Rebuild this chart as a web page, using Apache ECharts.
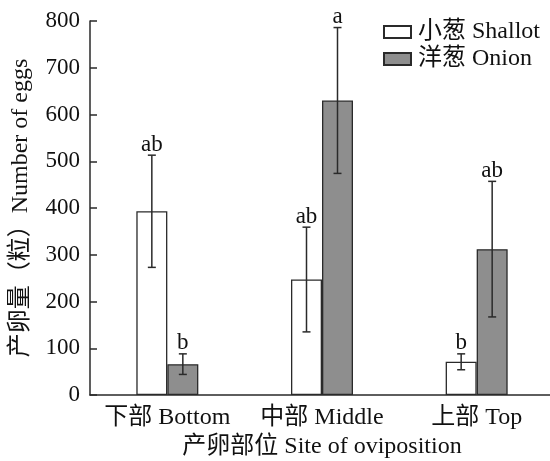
<!DOCTYPE html>
<html>
<head>
<meta charset="utf-8">
<script src="https://cdn.jsdelivr.net/npm/echarts@6/dist/echarts.min.js"></script>
<style>
  html, body { margin: 0; padding: 0; background: #fff; }
  #chart { width: 550px; height: 461px; }
</style>
</head>
<body>
<div id="chart"></div>
<script>
// Data
const categories = ['下部 Bottom', '中部 Middle', '上部 Top']
const shallotMean = [393, 247, 71]
const shallotErr = [120, 112, 17]
const shallotLetters = ['ab', 'ab', 'b']
const onionMean = [66, 630, 312]
const onionErr = [22, 156, 145]
const onionLetters = ['b', 'a', 'ab']

const FONT = '"Liberation Serif", "Noto Sans CJK SC", serif'
const BAR_W = 31
const INK = '#2a2a2a'

// error bar + significance letter, offset left (-1) or right (+1) of category centre
function errorSeries(mean, err, letters, side) {
  const data = mean.map((m, i) => [i, m, err[i]])
  return {
    type: 'custom',
    silent: true,
    z: 10,
    data: data,
    renderItem: function (params, api) {
      const i = api.value(0)
      const m = api.value(1)
      const e = api.value(2)
      const hi = api.coord([i, m + e])
      const lo = api.coord([i, m - e])
      const x = hi[0] + side * BAR_W / 2
      const cap = 4
      const style = { stroke: INK, lineWidth: 1.5 }
      return {
        type: 'group',
        children: [
          { type: 'line', shape: { x1: x, y1: hi[1], x2: x, y2: lo[1] }, style: style },
          { type: 'line', shape: { x1: x - cap, y1: hi[1], x2: x + cap, y2: hi[1] }, style: style },
          { type: 'line', shape: { x1: x - cap, y1: lo[1], x2: x + cap, y2: lo[1] }, style: style },
          {
            type: 'text',
            style: {
              text: letters[params.dataIndex],
              x: x, y: hi[1] + 1,
              align: 'center', verticalAlign: 'bottom',
              font: '23px ' + FONT, fill: '#111'
            }
          }
        ]
      }
    }
  }
}

const chart = echarts.init(document.getElementById('chart'))

chart.setOption({
  animation: false,
  backgroundColor: '#fff',
  legend: {
    right: 5,
    top: 15,
    orient: 'vertical',
    icon: 'rect',
    itemWidth: 27,
    itemHeight: 12,
    itemGap: 3,
    textStyle: { fontFamily: FONT, fontSize: 24, color: '#111', padding: [0, 0, 0, 2] },
    data: ['小葱 Shallot', '洋葱 Onion']
  },
  grid: {
    left: 90,
    top: 21,
    width: 464,
    height: 374,
    outerBoundsMode: 'none'
  },
  xAxis: {
    type: 'category',
    data: categories,
    name: '产卵部位 Site of oviposition',
    nameLocation: 'middle',
    nameGap: 38,
    nameTextStyle: { fontFamily: FONT, fontSize: 24, color: '#111' },
    axisLine: { lineStyle: { color: INK, width: 1.5 } },
    axisTick: { show: false },
    axisLabel: { interval: 0, fontFamily: FONT, fontSize: 24, color: '#111', margin: 11 }
  },
  yAxis: {
    type: 'value',
    min: 0,
    max: 800,
    interval: 100,
    name: '产卵量（粒）Number of eggs',
    nameLocation: 'middle',
    nameGap: 57,
    nameTextStyle: { fontFamily: FONT, fontSize: 24, color: '#111' },
    axisLine: { show: true, lineStyle: { color: INK, width: 1.5 } },
    axisTick: { show: true, inside: true, length: 7, lineStyle: { color: INK, width: 1.5 } },
    axisLabel: { fontFamily: FONT, fontSize: 23, color: '#111', margin: 10 },
    splitLine: { show: false }
  },
  series: [
    {
      name: '小葱 Shallot',
      type: 'bar',
      data: shallotMean,
      barWidth: BAR_W,
      barGap: '0%',
      itemStyle: { color: '#ffffff', borderColor: INK, borderWidth: 1.3 }
    },
    {
      name: '洋葱 Onion',
      type: 'bar',
      data: onionMean,
      barWidth: BAR_W,
      barGap: '0%',
      itemStyle: { color: '#8e8e8e', borderColor: INK, borderWidth: 1.3 }
    },
    errorSeries(shallotMean, shallotErr, shallotLetters, -1),
    errorSeries(onionMean, onionErr, onionLetters, 1)
  ]
})
</script>
</body>
</html>
